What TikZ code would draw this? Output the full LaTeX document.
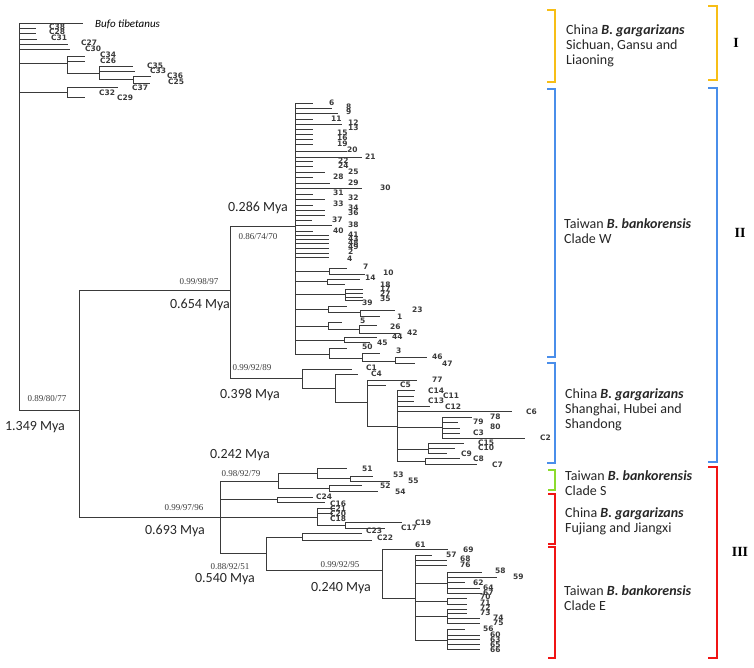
\documentclass[tikz,border=0pt]{standalone}
\usepackage{fontspec}
\setmainfont{Carlito}
\newfontfamily\tipfont{DejaVu Sans}
\newfontfamily\supfont{Liberation Serif}
\definecolor{treecol}{HTML}{3A3A3A}
\definecolor{yel}{HTML}{F7BE16}
\definecolor{blu}{HTML}{4A8EEA}
\definecolor{grn}{HTML}{8CDB2E}
\definecolor{rd}{HTML}{F01414}
\begin{document}
\begin{tikzpicture}[x=1pt,y=-1pt,
  tr/.style={draw=treecol,line width=1pt},
  tip/.style={font=\tipfont\bfseries\fontsize{7.5}{8}\selectfont,inner sep=0pt,anchor=west,text=treecol},
  sup/.style={font=\supfont\fontsize{9}{10}\selectfont,inner sep=0pt,text=treecol},
  mya/.style={font=\fontsize{14}{16}\selectfont,inner sep=0pt,text=black!85},
  brk/.style={line width=2.6pt},
  grp/.style={font=\fontsize{14}{15}\selectfont,inner sep=0pt,anchor=west,align=left,text=black!85},
  rom/.style={font=\supfont\bfseries\fontsize{14}{15}\selectfont,inner sep=0pt}]
\useasboundingbox (0,0) rectangle (754,667);
% ---------- outgroup ----------
\draw[tr] (19,23) -- (19,410);
\draw[tr] (19,23) -- (83,23);
\node[font=\itshape\fontsize{11}{12}\selectfont,inner sep=0pt,anchor=west] (bufo) at (95,24) {Bufo tibetanus};
\foreach \y/\e/\l/\lx/\ly in {28/36/C38/49/27, 33/36/C28/49/32, 39/37/C31/51/38, 44/68/C27/81/43, 49/70/C30/85/49}
  {\draw[tr] (19,\y) -- (\e,\y); \node[tip] at (\lx,\ly) {\l};}
\draw[tr] (19,63) -- (67,63); \draw[tr] (67,56) -- (67,73);
\draw[tr] (67,56) -- (85,56); \node[tip] at (100,55) {C34};
\draw[tr] (67,61) -- (85,61); \node[tip] at (100,61) {C26};
\draw[tr] (67,73) -- (99,73); \draw[tr] (99,66) -- (99,79);
\draw[tr] (99,66) -- (133,66); \node[tip] at (147,66) {C35};
\draw[tr] (99,71) -- (135,71); \node[tip] at (150,71) {C33};
\draw[tr] (99,79) -- (133,79); \draw[tr] (133,76) -- (133,83);
\draw[tr] (133,76) -- (151,76); \node[tip] at (167,76) {C36};
\draw[tr] (133,83) -- (150,83); \node[tip] at (168,82) {C25};
\node[tip] at (132,88) {C37};
\draw[tr] (19,92) -- (67,92); \draw[tr] (67,87) -- (67,97);
\draw[tr] (67,87) -- (118,87); \node[tip] at (99,93) {C32};
\draw[tr] (67,97) -- (85,97); \node[tip] at (117,98) {C29};
% ---------- ingroup ----------
\draw[tr] (19,410) -- (79,410);
\node[sup] at (47,399) {0.89/80/77};
\node[mya] at (35,427) {1.349 Mya};
\draw[tr] (79,290) -- (79,517);
\draw[tr] (79,290) -- (230,290);
\node[sup] at (199,282) {0.99/98/97};
\node[mya] at (200,305) {0.654 Mya};
\draw[tr] (230,226) -- (230,378);
% clade W
\draw[tr] (230,226) -- (295,226);
\node[mya] at (258,208) {0.286 Mya};
\node[sup] at (258,237) {0.86/74/70};
\draw[tr] (295,103) -- (295,354);
\foreach \y/\e/\l/\lx/\ly in {103/313/6/329/103, 108/332/8/346/107, 113/338/9/346/112, 119/313/11/331/119,
  124/342/12/348/123, 129/313/13/348/128, 134/313/15/337/133, 139/313/16/337/138, 144/313/19/337/144,
  151/347/20/347/150, 157/362/21/365/157, 161/313/22/338/161, 166/313/24/338/166, 172/325/25/348/172,
  177/313/28/333/177, 183/330/29/348/183, 188/362/30/380/188, 194/313/31/333/193, 199/325/32/348/198,
  205/313/33/333/204, 210/325/34/348/208, 215/325/36/348/213, 220/312/37/332/220, 225/332/38/348/225,
  231/313/40/333/231, 235/329/41/348/235, 239/329/43/348/239, 243/329/48/348/243, 248/329/49/348/247,
  253/329/2/348/252, 257/329/4/347/259}
  {\draw[tr] (295,\y) -- (\e,\y); \node[tip] at (\lx,\ly) {\l};}
% (7,10)
\draw[tr] (295,271) -- (329,271); \draw[tr] (329,268) -- (329,274);
\draw[tr] (329,268) -- (347,268); \node[tip] at (363,267) {7};
\draw[tr] (329,274) -- (365,274); \node[tip] at (383,273) {10};
% 14
\draw[tr] (295,281) -- (327,281); \draw[tr] (327,279) -- (327,284);
\draw[tr] (327,279) -- (360,279); \node[tip] at (365,278) {14};
\draw[tr] (327,284) -- (345,284);
% 18 17 27 35
\draw[tr] (295,294) -- (345,294); \draw[tr] (345,289) -- (345,300);
\foreach \y/\l/\ly in {289/18/285, 293/17/289, 297/27/294, 300/35/299}
  {\draw[tr] (345,\y) -- (363,\y); \node[tip] at (380,\ly) {\l};}
% 39 (23,1)
\draw[tr] (295,309) -- (328,309); \draw[tr] (328,306) -- (328,312);
\draw[tr] (328,306) -- (347,306); \node[tip] at (362,303) {39};
\draw[tr] (328,312) -- (360,312); \draw[tr] (360,310) -- (360,316);
\draw[tr] (360,310) -- (395,310); \node[tip] at (412,310) {23};
\draw[tr] (360,316) -- (380,316); \node[tip] at (397,317) {1};
% 5 (26,42)
\draw[tr] (295,326) -- (328,326); \draw[tr] (328,322) -- (328,329);
\draw[tr] (328,322) -- (342,322); \node[tip] at (360,321) {5};
\draw[tr] (328,329) -- (359,329); \draw[tr] (359,325) -- (359,333);
\draw[tr] (359,325) -- (377,325); \node[tip] at (390,327) {26};
\draw[tr] (359,333) -- (400,333); \node[tip] at (407,333) {42};
% 44 45
\draw[tr] (295,340) -- (344,340); \draw[tr] (344,337) -- (344,342);
\draw[tr] (344,337) -- (377,337); \node[tip] at (392,337) {44};
\draw[tr] (344,342) -- (370,342); \node[tip] at (377,343) {45};
% 50 (3,(46,47))
\draw[tr] (295,354) -- (329,354); \draw[tr] (329,348) -- (329,358);
\draw[tr] (329,348) -- (347,348); \node[tip] at (362,347) {50};
\draw[tr] (329,358) -- (362,358); \draw[tr] (362,353) -- (362,361);
\draw[tr] (362,353) -- (380,353); \node[tip] at (396,351) {3};
\draw[tr] (362,361) -- (395,361); \draw[tr] (395,357) -- (395,363);
\draw[tr] (395,357) -- (427,357); \node[tip] at (432,357) {46};
\draw[tr] (395,363) -- (415,363); \node[tip] at (442,364) {47};
% China gargarizans Shanghai clade
\draw[tr] (230,378) -- (302,378);
\node[sup] at (252,368) {0.99/92/89};
\node[mya] at (250,395) {0.398 Mya};
\draw[tr] (302,369) -- (302,388);
\draw[tr] (302,369) -- (352,369); \node[tip] at (366,368) {C1};
\draw[tr] (302,388) -- (335,388); \draw[tr] (335,374) -- (335,402);
\draw[tr] (335,374) -- (358,374); \node[tip] at (371,374) {C4};
\draw[tr] (335,402) -- (367,402); \draw[tr] (367,380) -- (367,426);
\draw[tr] (367,380) -- (417,380); \node[tip] at (432,380) {77};
\draw[tr] (367,385) -- (386,385); \node[tip] at (400,385) {C5};
\draw[tr] (367,426) -- (397,426); \draw[tr] (397,390) -- (397,461);
\foreach \y/\e/\l/\lx/\ly in {390/415/C14/428/391, 396/414/C11/443/396, 401/414/C13/428/401, 406/430/C12/445/407, 411/512/C6/526/412}
  {\draw[tr] (397,\y) -- (\e,\y); \node[tip] at (\lx,\ly) {\l};}
\draw[tr] (397,427) -- (442,427); \draw[tr] (442,417) -- (442,438);
\foreach \y/\e/\l/\lx/\ly in {417/472/78/490/417, 422/458/79/473/422, 428/460/80/490/427, 433/460/C3/473/433, 438/525/C2/540/438}
  {\draw[tr] (442,\y) -- (\e,\y); \node[tip] at (\lx,\ly) {\l};}
\draw[tr] (397,449) -- (428,449); \draw[tr] (428,443) -- (428,453);
\foreach \y/\e/\l/\lx/\ly in {443/464/C15/478/443, 448/455/C10/478/448, 453/447/C9/461/454}
  {\draw[tr] (428,\y) -- (\e,\y); \node[tip] at (\lx,\ly) {\l};}
\draw[tr] (397,461) -- (425,461); \draw[tr] (425,458) -- (425,464);
\draw[tr] (425,458) -- (460,458); \node[tip] at (473,459) {C8};
\draw[tr] (425,464) -- (477,464); \node[tip] at (492,465) {C7};
% ---------- lower clade ----------
\draw[tr] (79,517) -- (220,517);
\node[sup] at (184,508) {0.99/97/96};
\node[mya] at (175,531) {0.693 Mya};
\draw[tr] (220,481) -- (220,553);
% clade S
\draw[tr] (220,481) -- (278,481);
\node[mya] at (240,455) {0.242 Mya};
\node[sup] at (241,474) {0.98/92/79};
\draw[tr] (278,473) -- (278,488);
\draw[tr] (278,473) -- (317,473); \draw[tr] (317,468) -- (317,478);
\draw[tr] (317,468) -- (347,468); \node[tip] at (362,469) {51};
\draw[tr] (317,478) -- (350,478); \draw[tr] (350,476) -- (350,481);
\draw[tr] (350,476) -- (373,476); \node[tip] at (393,475) {53};
\draw[tr] (350,481) -- (390,481); \node[tip] at (408,481) {55};
\draw[tr] (278,488) -- (329,488); \draw[tr] (329,485) -- (329,491);
\draw[tr] (329,485) -- (362,485); \node[tip] at (380,486) {52};
\draw[tr] (329,491) -- (378,491); \node[tip] at (395,492) {54};
% C24
\draw[tr] (220,499) -- (277,499); \draw[tr] (277,497) -- (277,502);
\draw[tr] (277,497) -- (313,497); \node[tip] at (316,497) {C24};
\draw[tr] (277,502) -- (325,502);
% C16 C21 C20 C18 (C19,C17)
\draw[tr] (220,517) -- (317,517); \draw[tr] (317,508) -- (317,525);
\draw[tr] (317,508) -- (335,508); \node[tip] at (330,504) {C16};
\draw[tr] (317,513) -- (333,513); \node[tip] at (330,509) {C21};
\node[tip] at (330,514) {C20};
\node[tip] at (330,519) {C18};
\draw[tr] (317,525) -- (345,525); \draw[tr] (345,522) -- (345,528);
\draw[tr] (345,522) -- (402,522); \node[tip] at (415,523) {C19};
\draw[tr] (345,528) -- (385,528); \node[tip] at (401,528) {C17};
% 0.540
\draw[tr] (220,553) -- (266,553);
\node[sup] at (230,567) {0.88/92/51};
\node[mya] at (225,579) {0.540 Mya};
\draw[tr] (266,537) -- (266,570);
\draw[tr] (266,537) -- (302,537); \draw[tr] (302,533) -- (302,540);
\draw[tr] (302,533) -- (362,533); \node[tip] at (366,531) {C23};
\draw[tr] (302,540) -- (372,540); \node[tip] at (377,538) {C22};
% clade E
\draw[tr] (266,570) -- (382,570);
\node[sup] at (340,565) {0.99/92/95};
\node[mya] at (341,588) {0.240 Mya};
\draw[tr] (382,549) -- (382,598);
\draw[tr] (382,549) -- (448,549); \node[tip] at (415,545) {61}; \node[tip] at (463,550) {69};
\draw[tr] (382,598) -- (415,598); \draw[tr] (415,555) -- (415,640);
\draw[tr] (415,555) -- (432,555); \node[tip] at (446,555) {57};
\draw[tr] (415,560) -- (447,560); \node[tip] at (460,559) {68};
\draw[tr] (415,565) -- (447,565); \node[tip] at (460,565) {76};
\draw[tr] (415,583) -- (447,583); \draw[tr] (447,572) -- (447,593);
\foreach \y/\e/\l/\lx/\ly in {572/482/58/495/571, 577/497/59/513/577, 582/465/62/473/583, 588/480/64/483/588, 593/482/67/483/593}
  {\draw[tr] (447,\y) -- (\e,\y); \node[tip] at (\lx,\ly) {\l};}
\draw[tr] (415,601) -- (447,601); \draw[tr] (447,598) -- (447,604);
\foreach \y/\e/\l/\lx/\ly in {598/467/70/480/597, 604/467/71/480/603}
  {\draw[tr] (447,\y) -- (\e,\y); \node[tip] at (\lx,\ly) {\l};}
\draw[tr] (415,616) -- (447,616); \draw[tr] (447,609) -- (447,623);
\foreach \y/\e/\l/\lx/\ly in {609/467/72/480/608, 613/467/73/480/613, 618/480/74/493/618, 623/480/75/493/623}
  {\draw[tr] (447,\y) -- (\e,\y); \node[tip] at (\lx,\ly) {\l};}
\draw[tr] (415,640) -- (447,640); \draw[tr] (447,629) -- (447,649);
\foreach \y/\e/\l/\lx/\ly in {629/465/56/483/629, 635/480/60/490/635, 639/480/63/490/640, 644/480/65/490/645, 649/480/66/490/650}
  {\draw[tr] (447,\y) -- (\e,\y); \node[tip] at (\lx,\ly) {\l};}
% ---------- brackets ----------
\draw[brk,yel] (547,10) -- (555,10) -- (555,82) -- (547,82);
\draw[brk,yel] (708,6) -- (717,6) -- (717,80) -- (708,80);
\draw[brk,blu] (547,89) -- (555,89) -- (555,357) -- (547,357);
\draw[brk,blu] (547,363) -- (555,363) -- (555,463) -- (547,463);
\draw[brk,blu] (708,88) -- (717,88) -- (717,462) -- (708,462);
\draw[brk,grn] (548,470) -- (555,470) -- (555,490) -- (548,490);
\draw[brk,rd] (548,494) -- (555,494) -- (555,544) -- (548,544);
\draw[brk,rd] (548,547) -- (555,547) -- (555,658) -- (548,658);
\draw[brk,rd] (708,467) -- (717,467) -- (717,658) -- (708,658);
\node[grp] (g1) at (566,46) {China \textbf{\textit{B. gargarizans}}\\Sichuan, Gansu and\\Liaoning};
\node[grp] (g2) at (564,231) {Taiwan \textbf{\textit{B. bankorensis}}\\Clade W};
\node[grp] (g3) at (565,410) {China \textbf{\textit{B. gargarizans}}\\Shanghai, Hubei and\\Shandong};
\node[grp] (g4) at (565,483) {Taiwan \textbf{\textit{B. bankorensis}}\\Clade S};
\node[grp] (g5) at (565,521) {China \textbf{\textit{B. gargarizans}}\\Fujiang and Jiangxi};
\node[grp] (g6) at (564,598) {Taiwan \textbf{\textit{B. bankorensis}}\\Clade E};
\node[rom] (r1) at (736,43) {I};
\node[rom] (r2) at (740,233) {II};
\node[rom] (r3) at (740,552) {III};
\end{tikzpicture}
\end{document}
